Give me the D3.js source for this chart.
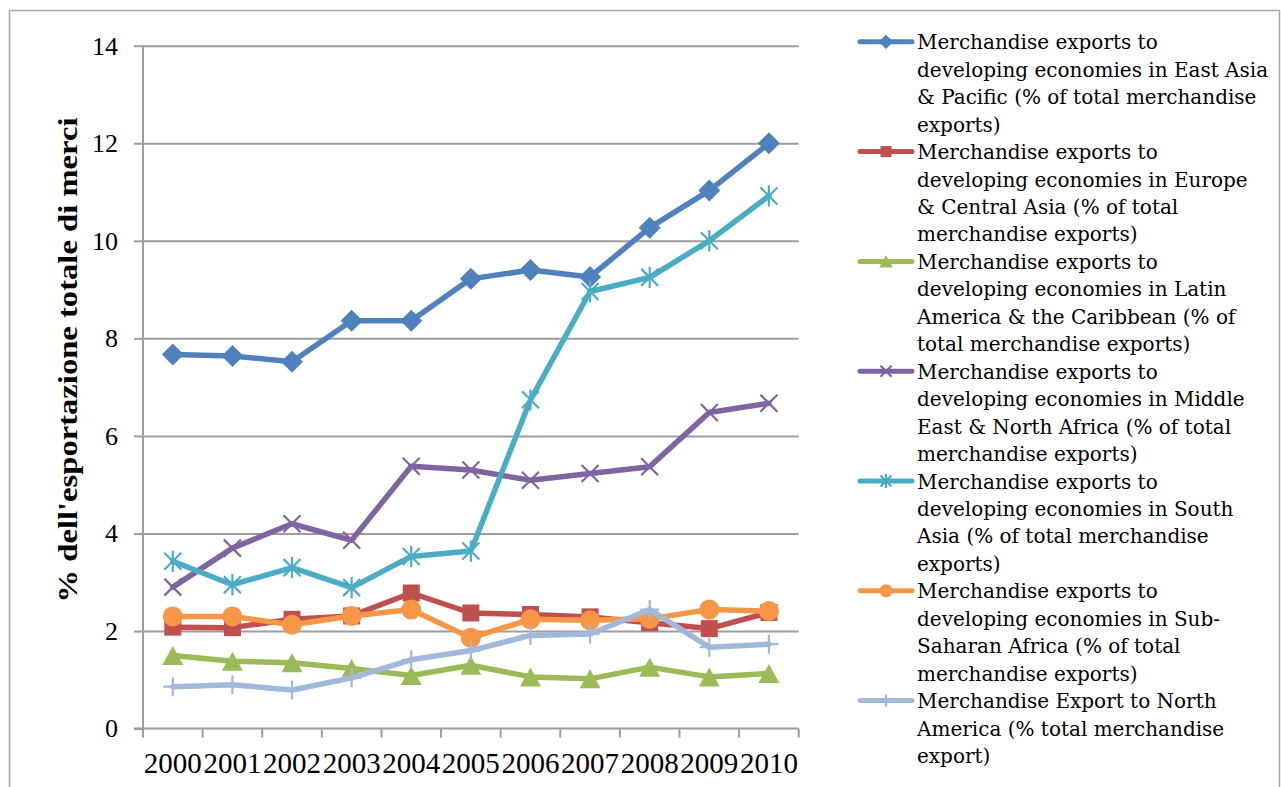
<!DOCTYPE html>
<html>
<head>
<meta charset="utf-8">
<script src="https://cdn.jsdelivr.net/npm/d3@7"></script>
<style>
  html, body { margin: 0; padding: 0; background: #ffffff; }
  svg { display: block; }
</style>
</head>
<body>
<svg id="chart" width="1281" height="787"></svg>
<script>
// ---------- DATA ----------
const years = ["2000","2001","2002","2003","2004","2005","2006","2007","2008","2009","2010"];
const yTicks = [0, 2, 4, 6, 8, 10, 12, 14];
const yTitle = "% dell'esportazione totale di merci";

const eastAsia   = [7.67, 7.64, 7.52, 8.36, 8.36, 9.22, 9.40, 9.26, 10.27, 11.03, 12.00];
const europe     = [2.08, 2.07, 2.24, 2.31, 2.78, 2.37, 2.34, 2.29, 2.17, 2.05, 2.38];
const latinAm    = [1.50, 1.38, 1.35, 1.23, 1.09, 1.30, 1.06, 1.02, 1.26, 1.06, 1.13];
const middleEast = [2.90, 3.70, 4.20, 3.86, 5.38, 5.30, 5.09, 5.23, 5.37, 6.48, 6.67];
const southAsia  = [3.43, 2.95, 3.30, 2.89, 3.53, 3.64, 6.74, 8.96, 9.25, 10.00, 10.92];
const subSahara  = [2.30, 2.30, 2.13, 2.31, 2.44, 1.86, 2.24, 2.22, 2.25, 2.44, 2.41];
const northAm    = [0.86, 0.90, 0.79, 1.04, 1.41, 1.60, 1.91, 1.94, 2.44, 1.67, 1.73];

const legendLines = [
  ["Merchandise exports to", "developing economies in East Asia", "& Pacific (% of total merchandise", "exports)"],
  ["Merchandise exports to", "developing economies in Europe", "& Central Asia (% of total", "merchandise exports)"],
  ["Merchandise exports to", "developing economies in Latin", "America & the Caribbean (% of", "total merchandise exports)"],
  ["Merchandise exports to", "developing economies in Middle", "East & North Africa (% of total", "merchandise exports)"],
  ["Merchandise exports to", "developing economies in South", "Asia (% of total merchandise", "exports)"],
  ["Merchandise exports to", "developing economies in Sub-", "Saharan Africa (% of total", "merchandise exports)"],
  ["Merchandise Export to North", "America (% total merchandise", "export)"]
];

const seriesValues = [eastAsia, europe, latinAm, middleEast, southAsia, subSahara, northAm];
const seriesColors = ["#4f81bd", "#c0504d", "#9bbb59", "#8064a2", "#4bacc6", "#f79646", "#a2b8da"];
const seriesMarkers = ["diamond", "square", "triangle", "x", "asterisk", "circle", "plus"];

// ---------- LAYOUT ----------
const svg = d3.select("#chart");
const plotLeft = 143, plotRight = 798.7, plotTop = 45.7, plotBottom = 728.6;

const x = d3.scaleBand().domain(years).range([plotLeft, plotRight]).padding(0);
const y = d3.scaleLinear().domain([0, 14]).range([plotBottom, plotTop]);
const cx = d => x(d) + x.bandwidth() / 2;

// outer border
svg.append("rect")
  .attr("x", 9.5).attr("y", 10.5)
  .attr("width", 1270).attr("height", 800)
  .attr("fill", "none").attr("stroke", "#a6a6a6").attr("stroke-width", 1.5);

// gridlines
const grid = svg.append("g").attr("transform", `translate(${plotLeft},0)`)
  .call(d3.axisLeft(y).tickValues(yTicks.filter(t => t > 0)).tickSize(-(plotRight - plotLeft)).tickFormat(""));
grid.select(".domain").remove();
grid.selectAll(".tick line").attr("stroke", "#9d9d9d").attr("stroke-width", 2);

// y axis
const yAxis = svg.append("g").attr("transform", `translate(${plotLeft},0)`)
  .call(d3.axisLeft(y).tickValues(yTicks).tickSize(9).tickPadding(16).tickFormat(d3.format("d")));
yAxis.select(".domain").attr("stroke", "#9d9d9d").attr("stroke-width", 2)
  .attr("d", `M0,${plotTop}V${plotBottom}`);
yAxis.selectAll(".tick line").attr("stroke", "#9d9d9d").attr("stroke-width", 2);
yAxis.selectAll(".tick text")
  .attr("font-family", "'Liberation Serif', serif").attr("font-size", 26).attr("fill", "#000");

// x axis line + boundary ticks
const xAxis = svg.append("g").attr("transform", `translate(0,${plotBottom})`)
  .call(d3.axisBottom(x).tickSize(0).tickPadding(0));
xAxis.select(".domain").remove();
xAxis.selectAll(".tick text").remove();
xAxis.append("line").attr("x1", plotLeft - 9).attr("x2", plotRight).attr("y1", 0).attr("y2", 0)
  .attr("stroke", "#9d9d9d").attr("stroke-width", 2);
const bounds = years.map(d => x(d)).concat([x(years[years.length - 1]) + x.bandwidth()]);
xAxis.selectAll("line.bt").data(bounds).enter().append("line").attr("class", "bt")
  .attr("x1", d => d).attr("x2", d => d).attr("y1", 0).attr("y2", 9)
  .attr("stroke", "#9d9d9d").attr("stroke-width", 2);
xAxis.selectAll("text.yl").data(years).enter().append("text").attr("class", "yl")
  .attr("x", d => cx(d)).attr("y", 772.7 - plotBottom)
  .attr("text-anchor", "middle")
  .attr("font-family", "'Liberation Serif', serif").attr("font-size", 30)
  .attr("textLength", 58).attr("lengthAdjust", "spacingAndGlyphs")
  .attr("fill", "#000").text(d => d);

// y title
svg.append("text")
  .attr("transform", "translate(77,360) rotate(-90)")
  .attr("text-anchor", "middle")
  .attr("font-family", "'Liberation Serif', serif").attr("font-weight", "bold").attr("font-size", 27)
  .attr("textLength", 485).attr("lengthAdjust", "spacingAndGlyphs")
  .attr("fill", "#000").text(yTitle);

// ---------- MARKERS ----------
function drawMarker(g, type, color, px, py, s) {
  if (type === "diamond") {
    const r = 11 * s;
    g.append("path").attr("d", `M${px},${py - r}L${px + r},${py}L${px},${py + r}L${px - r},${py}Z`).attr("fill", color);
  } else if (type === "square") {
    const h = 8.5 * s;
    g.append("rect").attr("x", px - h).attr("y", py - h).attr("width", 2 * h).attr("height", 2 * h).attr("fill", color);
  } else if (type === "triangle") {
    const w = 10.5 * s, hh = 9.5 * s;
    g.append("path").attr("d", `M${px},${py - hh}L${px + w},${py + hh}L${px - w},${py + hh}Z`).attr("fill", color);
  } else if (type === "circle") {
    g.append("circle").attr("cx", px).attr("cy", py).attr("r", 10 * s).attr("fill", color);
  } else if (type === "x") {
    const h = 8.5 * s;
    g.append("path").attr("d", `M${px - h},${py - h}L${px + h},${py + h}M${px - h},${py + h}L${px + h},${py - h}`)
      .attr("stroke", color).attr("stroke-width", 2.2).attr("fill", "none");
  } else if (type === "asterisk") {
    const h = 8.5 * s;
    g.append("path").attr("d", `M${px - h},${py - h}L${px + h},${py + h}M${px - h},${py + h}L${px + h},${py - h}M${px},${py - h * 1.25}L${px},${py + h * 1.25}`)
      .attr("stroke", color).attr("stroke-width", 2.2).attr("fill", "none");
  } else if (type === "plus") {
    const h = 9.5 * s;
    g.append("path").attr("d", `M${px - h},${py}L${px + h},${py}M${px},${py - h}L${px},${py + h}`)
      .attr("stroke", color).attr("stroke-width", 2.2).attr("fill", "none");
  }
}

// ---------- SERIES ----------
const line = d3.line().x((v, i) => cx(years[i])).y(v => y(v));
seriesValues.forEach((vals, si) => {
  const g = svg.append("g");
  g.append("path").datum(vals).attr("d", line)
    .attr("fill", "none").attr("stroke", seriesColors[si]).attr("stroke-width", 5.5)
    .attr("stroke-linejoin", "round").attr("stroke-linecap", "round");
  vals.forEach((v, i) => drawMarker(g, seriesMarkers[si], seriesColors[si], cx(years[i]), y(v), 1));
});

// ---------- LEGEND ----------
const lineH = 27.45, firstBase = 49.3;
let k = 0;
const leg = svg.append("g");
legendLines.forEach((lines, si) => {
  const base = firstBase + k * lineH;
  const my = base - 7.5;
  leg.append("line").attr("x1", 860).attr("x2", 912).attr("y1", my).attr("y2", my)
    .attr("stroke", seriesColors[si]).attr("stroke-width", 5).attr("stroke-linecap", "round");
  drawMarker(leg, seriesMarkers[si], seriesColors[si], 886, my, 0.65);
  lines.forEach((t, li) => {
    leg.append("text").attr("x", 917).attr("y", firstBase + (k + li) * lineH)
      .attr("font-family", "'DejaVu Serif', serif").attr("font-size", 20)
      .attr("fill", "#000").text(t);
  });
  k += lines.length;
});
</script>
</body>
</html>
